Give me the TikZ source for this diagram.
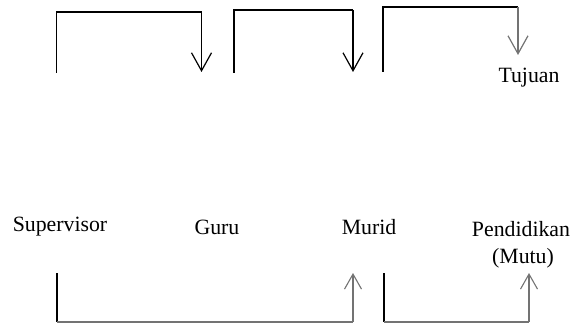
\documentclass[tikz,border=0pt]{standalone}
\usepackage{fontspec}
\setmainfont{Liberation Serif}
\usetikzlibrary{arrows.meta}
\begin{document}
\begin{tikzpicture}[x=1pt,y=-1pt,
  lbl/.style={font=\fontsize{21.8}{24}\selectfont, inner sep=0pt, anchor=center},
  bk/.style={draw=black, line width=1.3pt},
  gr/.style={draw=black!55, line width=1.1pt},
  tip/.style={-{Straight Barb[length=18pt,width=20pt,line width=1.2pt]}},
  tipsm/.style={-{Straight Barb[length=15pt,width=17pt,line width=1.1pt]}}]
\useasboundingbox (0,0) rectangle (581,323);
% labels
\node[lbl] (sup) at (60,227) {Supervisor};
\node[lbl] (guru) at (217,227) {Guru};
\node[lbl] (murid) at (369,227) {Murid};
\node[lbl] (pend) at (521,229) {Pendidikan};
\node[lbl] (mutu) at (523,258) {(Mutu)};
\node[lbl] (tuj) at (529,78) {Tujuan};
% top brackets
\coordinate (a1) at (56.5,73); \coordinate (a2) at (56.5,12);
\coordinate (a3) at (201.5,12); \coordinate (a4) at (201.5,72);
\draw[bk] (a1) -- (a2) -- (a3);
\draw[bk,tip] (a3) -- (a4);
\coordinate (b1) at (234,73); \coordinate (b2) at (234,10);
\coordinate (b3) at (353,10); \coordinate (b4) at (353,72);
\draw[bk] (b1) -- (b2) -- (b3);
\draw[bk,tip] (b3) -- (b4);
\coordinate (c1) at (383,72); \coordinate (c2) at (383,7);
\coordinate (c3) at (518,7); \coordinate (c4) at (518,55);
\draw[bk] (c1) -- (c2) -- (c3);
\draw[gr,tip] (c3) -- (c4);
% bottom brackets
\coordinate (d1) at (57,273); \coordinate (d2) at (57,322);
\coordinate (d3) at (353,322); \coordinate (d4) at (353,273);
\draw[bk] (d1) -- (d2);
\draw[gr] (d2) -- (d3);
\draw[gr,tipsm] (d3) -- (d4);
\coordinate (e1) at (384,273); \coordinate (e2) at (384,322);
\coordinate (e3) at (529,322); \coordinate (e4) at (529,273);
\draw[bk] (e1) -- (e2);
\draw[gr] (e2) -- (e3);
\draw[gr,tipsm] (e3) -- (e4);
\end{tikzpicture}
\end{document}
